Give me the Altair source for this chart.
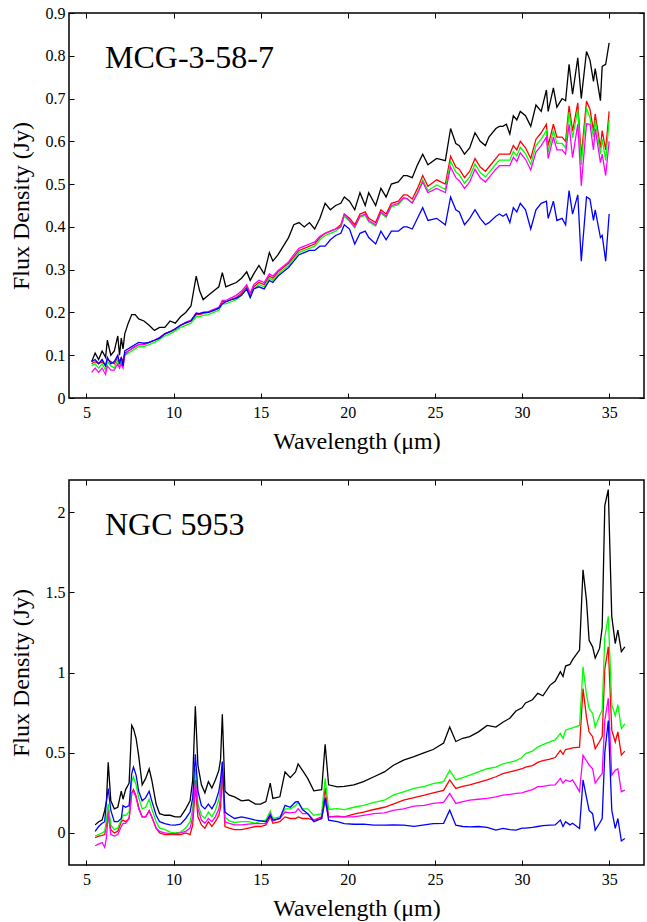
import altair as alt
import pandas as pd

FONT = "'Liberation Serif', 'Times New Roman', Times, 'DejaVu Serif', serif"
SERIES = ["black", "red", "green", "magenta", "blue"]
COLORS = ["#000000", "#ff0000", "#00ff00", "#ff00ff", "#0000ff"]
X_TICKS = [5, 10, 15, 20, 25, 30, 35]
TOP_Y_TICKS = [0, 0.1, 0.2, 0.3, 0.4, 0.5, 0.6, 0.7, 0.8, 0.9]
BOT_Y_TICKS = [0, 0.5, 1, 1.5, 2]

# ---------------- MCG-3-58-7 ----------------
TOP_WL = [
    5.3, 5.5, 5.7, 5.9, 6.1, 6.2, 6.4, 6.6, 6.8, 6.9,
    7.0, 7.1, 7.2, 7.4, 7.6, 7.8, 8.0, 8.3, 8.6, 8.9,
    9.2, 9.5, 9.8, 10.1, 10.4, 10.7, 11.0, 11.3, 11.5, 11.7,
    12.0, 12.3, 12.6, 12.8, 13.0, 13.3, 13.6, 13.9, 14.2, 14.4,
    14.6, 14.9, 15.2, 15.5, 15.7, 16.0, 16.3, 16.6, 16.9, 17.2,
    17.5, 17.8, 18.1, 18.4, 18.7, 19.0, 19.3, 19.6, 19.8,
    20.1, 20.4, 20.7, 21.0, 21.2, 21.6, 21.9, 22.2, 22.5, 22.9,
    23.2, 23.4, 23.7, 24.0, 24.3, 24.6, 25.1, 25.6, 25.9, 26.2,
    26.4, 26.7, 27.0, 27.3, 27.6, 27.9, 28.1, 28.5, 28.7, 28.9,
    29.1, 29.3, 29.5, 29.7, 29.9, 30.2, 30.5, 30.8, 31.1, 31.4,
    31.5, 31.8, 32.0, 32.3, 32.5, 32.7, 32.9, 33.2, 33.4, 33.7,
    33.9, 34.1, 34.2, 34.5, 34.6, 34.8, 35.0,
]
TOP_BLACK = [
    0.085, 0.105, 0.09, 0.11, 0.095, 0.135, 0.10, 0.11, 0.145, 0.10,
    0.14, 0.115, 0.15, 0.175, 0.195, 0.195, 0.185, 0.18, 0.17, 0.158,
    0.165, 0.165, 0.18, 0.175, 0.19, 0.20, 0.215, 0.285, 0.25, 0.23,
    0.24, 0.25, 0.26, 0.293, 0.26, 0.265, 0.27, 0.28, 0.295, 0.275,
    0.29, 0.31, 0.29, 0.34, 0.32, 0.335, 0.355, 0.375, 0.405, 0.41,
    0.40, 0.41, 0.395, 0.42, 0.455, 0.44, 0.45, 0.455, 0.47,
    0.46, 0.44, 0.48, 0.45, 0.48, 0.45, 0.49, 0.47, 0.50, 0.505,
    0.52, 0.52, 0.515, 0.545, 0.57, 0.545, 0.56, 0.555, 0.63, 0.595,
    0.59, 0.57, 0.585, 0.62, 0.60, 0.59, 0.61, 0.63, 0.635, 0.635,
    0.64, 0.617, 0.66, 0.65, 0.67, 0.66, 0.635, 0.685, 0.67, 0.72,
    0.67, 0.725, 0.68, 0.70, 0.695, 0.78, 0.71, 0.795, 0.70, 0.81,
    0.79, 0.74, 0.77, 0.695, 0.775, 0.78, 0.83,
]
TOP_RED = [
    0.08, 0.085, 0.08, 0.085, 0.075, 0.09, 0.085, 0.08, 0.095, 0.085,
    0.095, 0.085, 0.105, 0.11, 0.115, 0.12, 0.125, 0.125, 0.13, 0.135,
    0.14, 0.15, 0.155, 0.16, 0.17, 0.175, 0.18, 0.195, 0.195, 0.198,
    0.20, 0.205, 0.21, 0.225, 0.225, 0.23, 0.235, 0.245, 0.26, 0.24,
    0.26, 0.27, 0.265, 0.285, 0.28, 0.295, 0.305, 0.315, 0.33, 0.345,
    0.35, 0.355, 0.36, 0.375, 0.385, 0.39, 0.395, 0.405, 0.43,
    0.42, 0.405, 0.43, 0.435, 0.42, 0.41, 0.44, 0.43, 0.455, 0.46,
    0.475, 0.475, 0.465, 0.49, 0.52, 0.495, 0.51, 0.50, 0.565, 0.54,
    0.535, 0.515, 0.53, 0.56, 0.54, 0.53, 0.54, 0.56, 0.57, 0.57,
    0.57, 0.57, 0.59, 0.58, 0.60, 0.585, 0.56, 0.605, 0.62, 0.64,
    0.59, 0.64, 0.61, 0.61, 0.60, 0.683, 0.624, 0.69, 0.565, 0.694,
    0.675, 0.624, 0.664, 0.585, 0.625, 0.58, 0.67,
]
TOP_GREEN = [
    0.075, 0.08, 0.07, 0.08, 0.065, 0.085, 0.075, 0.07, 0.09, 0.075,
    0.085, 0.075, 0.10, 0.105, 0.11, 0.115, 0.12, 0.12, 0.125, 0.13,
    0.137, 0.145, 0.15, 0.157, 0.165, 0.17, 0.175, 0.19, 0.19, 0.193,
    0.195, 0.20, 0.205, 0.22, 0.22, 0.225, 0.23, 0.24, 0.255, 0.235,
    0.255, 0.265, 0.26, 0.28, 0.275, 0.29, 0.30, 0.31, 0.325, 0.34,
    0.345, 0.35, 0.355, 0.37, 0.38, 0.385, 0.39, 0.40, 0.425,
    0.413, 0.398, 0.423, 0.427, 0.412, 0.402, 0.432, 0.422, 0.447, 0.452,
    0.466, 0.466, 0.456, 0.48, 0.51, 0.485, 0.498, 0.488, 0.553, 0.528,
    0.522, 0.502, 0.517, 0.547, 0.527, 0.517, 0.527, 0.547, 0.556, 0.556,
    0.556, 0.556, 0.576, 0.566, 0.586, 0.571, 0.546, 0.59, 0.605, 0.625,
    0.575, 0.625, 0.595, 0.595, 0.585, 0.668, 0.608, 0.675, 0.545, 0.678,
    0.655, 0.61, 0.65, 0.57, 0.605, 0.555, 0.65,
]
TOP_MAGENTA = [
    0.06, 0.07, 0.06, 0.07, 0.055, 0.075, 0.065, 0.065, 0.08, 0.07,
    0.08, 0.07, 0.10, 0.11, 0.115, 0.12, 0.125, 0.125, 0.13, 0.135,
    0.142, 0.15, 0.155, 0.162, 0.17, 0.177, 0.182, 0.198, 0.197, 0.20,
    0.202, 0.207, 0.212, 0.228, 0.228, 0.234, 0.24, 0.25, 0.265, 0.245,
    0.265, 0.275, 0.27, 0.29, 0.285, 0.298, 0.308, 0.318, 0.335, 0.35,
    0.355, 0.36, 0.365, 0.378, 0.385, 0.39, 0.395, 0.40, 0.43,
    0.415, 0.40, 0.425, 0.43, 0.415, 0.405, 0.435, 0.425, 0.45, 0.455,
    0.468, 0.466, 0.456, 0.478, 0.505, 0.48, 0.49, 0.48, 0.54, 0.515,
    0.508, 0.49, 0.505, 0.535, 0.515, 0.505, 0.515, 0.535, 0.543, 0.543,
    0.543, 0.543, 0.563, 0.553, 0.573, 0.558, 0.533, 0.575, 0.59, 0.61,
    0.56, 0.61, 0.58, 0.58, 0.57, 0.64, 0.562, 0.64, 0.496, 0.641,
    0.64, 0.58, 0.63, 0.55, 0.57, 0.52, 0.60,
]
TOP_BLUE = [
    0.085, 0.09, 0.08, 0.09, 0.075, 0.095, 0.08, 0.085, 0.10, 0.08,
    0.095, 0.075, 0.11, 0.115, 0.12, 0.125, 0.13, 0.128, 0.13, 0.135,
    0.14, 0.15, 0.155, 0.162, 0.17, 0.176, 0.18, 0.198, 0.197, 0.20,
    0.20, 0.205, 0.21, 0.22, 0.225, 0.23, 0.233, 0.24, 0.255, 0.235,
    0.255, 0.26, 0.255, 0.275, 0.27, 0.285, 0.295, 0.305, 0.32, 0.335,
    0.34, 0.345, 0.345, 0.355, 0.355, 0.37, 0.38, 0.385, 0.405,
    0.395, 0.36, 0.385, 0.39, 0.375, 0.36, 0.39, 0.37, 0.39, 0.39,
    0.40, 0.40, 0.395, 0.42, 0.445, 0.415, 0.42, 0.405, 0.47, 0.44,
    0.435, 0.405, 0.42, 0.44, 0.42, 0.405, 0.41, 0.425, 0.43, 0.425,
    0.43, 0.41, 0.445, 0.435, 0.455, 0.44, 0.395, 0.44, 0.455, 0.46,
    0.42, 0.46, 0.415, 0.42, 0.405, 0.485, 0.43, 0.475, 0.32, 0.47,
    0.465, 0.415, 0.44, 0.375, 0.38, 0.32, 0.43,
]

# ---------------- NGC 5953 ----------------
BOT_WL = [
    5.5, 5.7, 5.9, 6.05, 6.15, 6.25, 6.4, 6.6, 6.8, 7.0,
    7.1, 7.25, 7.45, 7.6, 7.7, 7.85, 8.0, 8.2, 8.4, 8.6,
    8.75, 9.0, 9.2, 9.5, 9.8, 10.1, 10.4, 10.7, 10.95, 11.1,
    11.25, 11.4, 11.6, 11.8, 12.0, 12.2, 12.4, 12.6, 12.7, 12.8,
    12.95, 13.2, 13.5, 13.9, 14.3, 14.7, 15.0, 15.3, 15.55, 15.7,
    16.1, 16.4, 16.7, 17.0, 17.15, 17.4, 17.7, 18.05, 18.5, 18.7,
    18.9, 19.4, 19.8, 20.35, 20.9, 21.5, 22.1, 22.6, 23.2, 23.8,
    24.4, 24.9, 25.5, 25.85, 26.2, 26.6, 27.0, 27.5, 28.0, 28.5,
    28.9, 29.3, 29.65, 30.0, 30.2, 30.6, 30.9, 31.2, 31.6, 31.9,
    32.2, 32.35, 32.5, 32.75, 32.9, 33.3, 33.5, 33.7, 33.85, 34.05,
    34.2, 34.45, 34.6, 34.75, 34.95, 35.15, 35.35, 35.5, 35.7, 35.9,
]
BOT_BLACK = [
    0.05, 0.07, 0.08, 0.14, 0.20, 0.44, 0.20, 0.15, 0.16, 0.26,
    0.21, 0.27, 0.31, 0.67, 0.65, 0.59, 0.48, 0.30, 0.34, 0.40,
    0.33, 0.18, 0.12, 0.11, 0.11, 0.10, 0.10, 0.15, 0.20, 0.33,
    0.79, 0.42, 0.30, 0.25, 0.32, 0.28, 0.33, 0.39, 0.46, 0.74,
    0.26, 0.235, 0.225, 0.20, 0.205, 0.18, 0.18, 0.195, 0.31, 0.215,
    0.225, 0.38, 0.345, 0.38, 0.43, 0.39, 0.34, 0.262, 0.27, 0.553,
    0.30, 0.287, 0.29, 0.30, 0.32, 0.35, 0.38, 0.42, 0.454, 0.475,
    0.50, 0.52, 0.56, 0.66, 0.57, 0.59, 0.60, 0.63, 0.67, 0.66,
    0.69, 0.715, 0.76, 0.78, 0.81, 0.83, 0.87, 0.855, 0.92, 0.945,
    1.005, 0.975, 1.04, 1.05, 1.08, 1.14, 1.64, 1.45, 1.20, 1.16,
    1.09, 1.15, 1.28, 2.04, 2.14, 1.35, 1.18, 1.265, 1.13, 1.16,
]
BOT_RED = [
    -0.03, -0.02, -0.015, -0.01, 0.05, 0.16, 0.02, 0.0, 0.01, 0.07,
    0.08, 0.07, 0.09, 0.25, 0.27, 0.23, 0.16, 0.10, 0.10, 0.14,
    0.10, 0.03, 0.0, -0.01, -0.01, -0.01, -0.01, 0.0, -0.01, 0.05,
    0.29, 0.10, 0.05, 0.03, 0.07, 0.04, 0.07, 0.11, 0.16, 0.38,
    0.04, 0.03, 0.02, 0.02, 0.03, 0.04, 0.04, 0.05, 0.10, 0.06,
    0.07, 0.10, 0.09, 0.09, 0.10, 0.09, 0.09, 0.08, 0.10, 0.28,
    0.10, 0.105, 0.10, 0.117, 0.13, 0.146, 0.16, 0.18, 0.204, 0.22,
    0.235, 0.25, 0.265, 0.33, 0.277, 0.29, 0.30, 0.315, 0.33, 0.35,
    0.37, 0.38, 0.39, 0.40, 0.41, 0.42, 0.44, 0.45, 0.46, 0.47,
    0.514, 0.49, 0.52, 0.525, 0.53, 0.535, 0.90, 0.72, 0.63, 0.60,
    0.525, 0.57, 0.60, 1.02, 1.16, 0.64, 0.567, 0.63, 0.485, 0.51,
]
BOT_GREEN = [
    -0.02, -0.01, 0.0, 0.01, 0.08, 0.18, 0.05, 0.02, 0.03, 0.08,
    0.11, 0.11, 0.13, 0.32, 0.35, 0.30, 0.22, 0.15, 0.16, 0.21,
    0.15, 0.07, 0.03, 0.02, 0.005, 0.0, 0.005, 0.03, 0.07, 0.15,
    0.40, 0.18, 0.11, 0.09, 0.13, 0.10, 0.14, 0.21, 0.28, 0.44,
    0.10, 0.075, 0.065, 0.07, 0.07, 0.06, 0.075, 0.08, 0.135, 0.09,
    0.10, 0.15, 0.15, 0.17, 0.19, 0.15, 0.15, 0.11, 0.12, 0.34,
    0.146, 0.152, 0.145, 0.16, 0.172, 0.19, 0.204, 0.235, 0.256, 0.277,
    0.29, 0.307, 0.32, 0.39, 0.33, 0.345, 0.36, 0.38, 0.40, 0.41,
    0.43, 0.44, 0.45, 0.47, 0.494, 0.51, 0.535, 0.55, 0.567, 0.58,
    0.62, 0.59, 0.64, 0.65, 0.655, 0.67, 1.036, 0.86, 0.776, 0.745,
    0.66, 0.73, 0.765, 1.22, 1.35, 0.80, 0.73, 0.80, 0.65, 0.68,
]
BOT_MAGENTA = [
    -0.08, -0.07, -0.06, -0.09, -0.03, 0.12, -0.01, -0.02, -0.01, 0.04,
    0.06, 0.06, 0.09, 0.25, 0.26, 0.22, 0.15, 0.10, 0.10, 0.135,
    0.10, 0.03, 0.01, 0.0, -0.005, -0.005, 0.0, 0.01, 0.03, 0.10,
    0.33, 0.15, 0.08, 0.06, 0.09, 0.07, 0.10, 0.15, 0.22, 0.41,
    0.07, 0.06, 0.05, 0.05, 0.055, 0.058, 0.058, 0.06, 0.12, 0.075,
    0.09, 0.13, 0.125, 0.13, 0.15, 0.12, 0.12, 0.08, 0.09, 0.20,
    0.10, 0.10, 0.10, 0.10, 0.11, 0.12, 0.125, 0.14, 0.15, 0.167,
    0.172, 0.184, 0.19, 0.246, 0.184, 0.195, 0.205, 0.21, 0.215, 0.225,
    0.236, 0.24, 0.246, 0.25, 0.257, 0.27, 0.288, 0.29, 0.298, 0.30,
    0.34, 0.31, 0.33, 0.32, 0.33, 0.257, 0.485, 0.45, 0.423, 0.40,
    0.31, 0.35, 0.37, 0.70, 0.84, 0.36, 0.39, 0.40, 0.257, 0.267,
]
BOT_BLUE = [
    0.01, 0.04, 0.06, 0.07, 0.20, 0.277, 0.14, 0.07, 0.07, 0.09,
    0.17, 0.16, 0.17, 0.37, 0.41, 0.36, 0.26, 0.20, 0.22, 0.26,
    0.20, 0.11, 0.07, 0.058, 0.05, 0.048, 0.055, 0.09, 0.13, 0.22,
    0.49, 0.26, 0.17, 0.15, 0.18, 0.15, 0.19, 0.26, 0.33, 0.445,
    0.13, 0.11, 0.09, 0.10, 0.09, 0.08, 0.075, 0.07, 0.11, 0.08,
    0.09, 0.172, 0.16, 0.193, 0.195, 0.146, 0.12, 0.07, 0.09, 0.22,
    0.079, 0.07, 0.058, 0.054, 0.055, 0.048, 0.048, 0.05, 0.048, 0.041,
    0.05, 0.058, 0.06, 0.142, 0.048, 0.04, 0.038, 0.04, 0.035, 0.017,
    0.028, 0.02, 0.017, 0.03, 0.03, 0.035, 0.04, 0.045, 0.048, 0.05,
    0.08, 0.04, 0.07, 0.05, 0.06, 0.028, 0.33, 0.22, 0.14, 0.12,
    0.017, 0.06, 0.09, 0.50, 0.70, 0.142, 0.028, 0.09, -0.05, -0.035,
]


def long_df(wl, cols):
    rows = []
    for name, vals in zip(SERIES, cols):
        assert len(vals) == len(wl), (name, len(vals), len(wl))
        for w, v in zip(wl, vals):
            rows.append({"wavelength": w, "flux": v, "series": name})
    return pd.DataFrame(rows)


def panel(df, ydomain, yticks, label):
    xs = alt.Scale(domain=[4, 37], nice=False, zero=False)
    ys = alt.Scale(domain=ydomain, nice=False, zero=False)
    common = dict(offset=-5, tickSize=5, domain=False, grid=False, format="~g")
    axes_main = alt.Chart(df).mark_point(opacity=0, size=1).encode(
        x=alt.X("wavelength:Q", scale=xs,
                axis=alt.Axis(orient="bottom", values=X_TICKS, title="Wavelength (μm)",
                              labelPadding=6, titlePadding=9, **common)),
        y=alt.Y("flux:Q", scale=ys,
                axis=alt.Axis(orient="left", values=yticks, title="Flux Density (Jy)",
                              labelPadding=4, titlePadding=12, **common)),
    )
    axes_mirror = alt.Chart(df).mark_point(opacity=0, size=1).encode(
        x=alt.X("wavelength:Q", scale=xs,
                axis=alt.Axis(orient="top", values=X_TICKS, labels=False, title=None, **common)),
        y=alt.Y("flux:Q", scale=ys,
                axis=alt.Axis(orient="right", values=yticks, labels=False, title=None, **common)),
    )
    lines = []
    for name, col in zip(SERIES, COLORS):
        lines.append(
            alt.Chart(df).transform_filter(alt.datum.series == name)
            .mark_line(color=col, strokeWidth=1.3, clip=True)
            .encode(
                x=alt.X("wavelength:Q", scale=xs, axis=None),
                y=alt.Y("flux:Q", scale=ys, axis=None),
            )
        )
    text = alt.Chart(pd.DataFrame({"t": [label]})).mark_text(
        font=FONT, fontSize=32, align="left", baseline="alphabetic", color="black"
    ).encode(text="t:N", x=alt.value(36), y=alt.value(55))
    return alt.layer(axes_main, axes_mirror, *lines, text).resolve_axis(
        x="independent", y="independent"
    ).properties(width=575, height=385)


top = panel(long_df(TOP_WL, [TOP_BLACK, TOP_RED, TOP_GREEN, TOP_MAGENTA, TOP_BLUE]),
            [0, 0.9], TOP_Y_TICKS, "MCG-3-58-7")
bottom = panel(long_df(BOT_WL, [BOT_BLACK, BOT_RED, BOT_GREEN, BOT_MAGENTA, BOT_BLUE]),
               [-0.2, 2.2], BOT_Y_TICKS, "NGC 5953")

chart = alt.vconcat(top, bottom, spacing=24).configure_view(
    stroke="black", strokeWidth=1.5
).configure_axis(
    labelFont=FONT, labelFontSize=16, labelColor="black",
    titleFont=FONT, titleFontSize=24, titleFontWeight="normal", titleColor="black",
    tickColor="black", tickWidth=1,
).properties(
    padding={"left": 8, "top": 4, "right": 0, "bottom": 0}, background="white"
)

chart.save("out.html", embed_options={"renderer": "svg", "actions": False})
